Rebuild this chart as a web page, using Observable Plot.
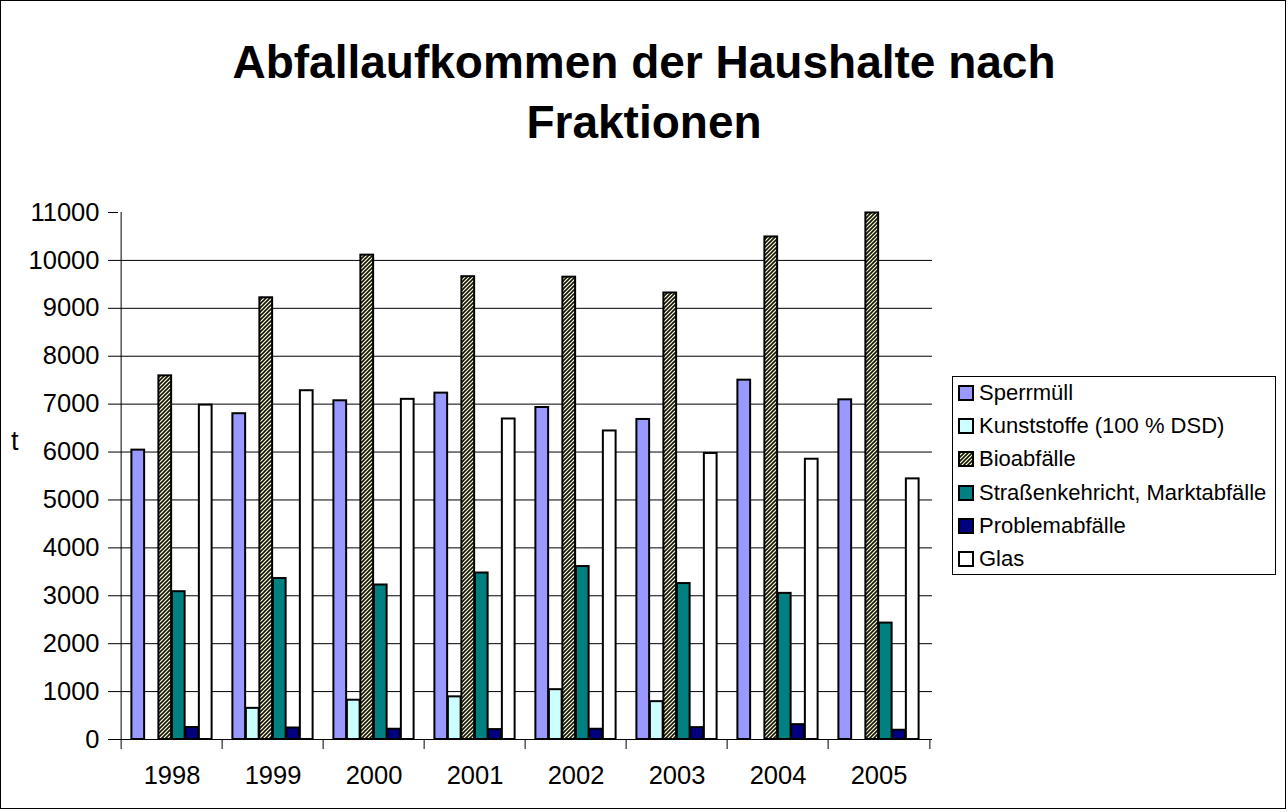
<!DOCTYPE html>
<html>
<head>
<meta charset="utf-8">
<script src="https://cdn.jsdelivr.net/npm/d3@7"></script>
<script src="https://cdn.jsdelivr.net/npm/@observablehq/plot@0.6"></script>
<style>
  html, body { margin: 0; padding: 0; background: white; }
  body { width: 1288px; height: 812px; overflow: hidden; font-family: "Liberation Sans", Arial, sans-serif; color: black; }
  #wrap { position: relative; width: 1288px; height: 812px; }
  #chart { position: absolute; left: 0; top: 0; }
  #frame { position: absolute; left: 0; top: 0; width: 1284px; height: 807px; border: 1px solid black; pointer-events: none; }
  #title { position: absolute; left: 0; top: 32px; width: 1288px; text-align: center; font-weight: bold; font-size: 46px; line-height: 60px; }
  #ylabel { position: absolute; left: 11px; top: 428px; font-size: 27px; line-height: 27px; }
  #legend { position: absolute; left: 952px; top: 376px; width: 322px; height: 197px; border: 1px solid black; background: white; }
  .row { position: absolute; left: 0; height: 33px; display: flex; align-items: center; font-size: 22px; white-space: nowrap; }
  .sw { width: 12px; height: 12px; border: 2px solid black; margin-left: 5px; margin-right: 5px; box-sizing: content-box; }
</style>
</head>
<body>
<svg width="0" height="0" style="position:absolute">
  <defs>
    <pattern id="bioHatch" patternUnits="userSpaceOnUse" width="4" height="4">
      <rect width="4" height="4" fill="#FFFFCC"></rect>
      <path d="M0,4 L4,0 M-1,1 L1,-1 M3,5 L5,3" stroke="#111" stroke-width="1.6"></path>
    </pattern>
  </defs>
</svg>
<div id="wrap">
  <div id="chart"></div>
  <div id="title">Abfallaufkommen der Haushalte nach<br>Fraktionen</div>
  <div id="ylabel">t</div>
  <div id="legend"></div>
  <div id="frame"></div>
</div>
<script>
const years = ["1998", "1999", "2000", "2001", "2002", "2003", "2004", "2005"];
const seriesNames = ["Sperrmüll", "Kunststoffe (100 % DSD)", "Bioabfälle", "Straßenkehricht, Marktabfälle", "Problemabfälle", "Glas"];
const sperrmuell   = [6040, 6800, 7070, 7230, 6930, 6680, 7500, 7090];
const kunststoffe  = [0, 650, 820, 890, 1040, 790, 0, 0];
const bioabfaelle  = [7590, 9220, 10110, 9660, 9650, 9320, 10490, 10990];
const strassen     = [3085, 3360, 3225, 3475, 3610, 3255, 3050, 2430];
const problem      = [250, 240, 214, 207, 214, 248, 310, 193];
const glas         = [6980, 7280, 7100, 6690, 6440, 5970, 5850, 5440];
const yTicks = d3.range(0, 11001, 1000);
const gridValues = d3.range(1000, 10001, 1000);

const seriesValues = [sperrmuell, kunststoffe, bioabfaelle, strassen, problem, glas];
const fills = ["#9999FF", "#CCFFFF", "url(#bioHatch)", "#008080", "#000080", "#FFFFFF"];

const W = 1288, H = 812;
const mL = 118, mR = 356, mT = 212, mB = 73;
const band = (W - mL - mR) / years.length;
const outerPad = 0.77;
const barW = band / (seriesNames.length + 2 * outerPad);
const gapHalf = outerPad * barW;

const barMarks = seriesValues.map((vals, i) => {
  const data = years.map((y, j) => ({year: y, value: vals[j]})).filter(d => d.value > 0);
  return Plot.barY(data, {
    x: "year", y: "value",
    fill: fills[i], stroke: "black", strokeWidth: 2,
    insetLeft: gapHalf + i * barW,
    insetRight: band - gapHalf - (i + 1) * barW
  });
});

const chart = Plot.plot({
  width: W, height: H,
  marginLeft: mL, marginRight: mR, marginTop: mT, marginBottom: mB,
  style: {background: "transparent", fontFamily: "Liberation Sans, Arial, sans-serif", color: "black", overflow: "visible"},
  x: {type: "band", domain: years, padding: 0, label: null},
  y: {domain: [0, 11000], label: null},
  marks: [
    Plot.ruleY(gridValues, {stroke: "black", strokeWidth: 1}),
    ...barMarks,
    Plot.ruleY([0], {stroke: "black", strokeWidth: 1}),
    Plot.ruleX([years[0]], {dx: -band / 2, y1: 0, y2: 11000, stroke: "black", strokeWidth: 1}),
    Plot.ruleX(years, {dx: -band / 2, y1: 0, y2: 0, insetBottom: -10, stroke: "black"}),
    Plot.ruleX([years[years.length - 1]], {dx: band / 2, y1: 0, y2: 0, insetBottom: -10, stroke: "black"}),
    Plot.axisY({ticks: yTicks, tickSize: 10, tickPadding: 9, fontSize: 25.5, tickFormat: d => String(d), label: null, stroke: "black"}),
    Plot.axisX({tickSize: 0, tickPadding: 26, fontSize: 25.5, label: null})
  ]
});
document.getElementById("chart").appendChild(chart);

const legend = document.getElementById("legend");
seriesNames.forEach((name, i) => {
  const row = document.createElement("div");
  row.className = "row";
  row.style.top = (17 + i * 33.2 - 16.5 - 1) + "px";
  const sw = document.createElement("div");
  sw.className = "sw";
  if (i === 2) {
    sw.innerHTML = '<svg width="12" height="12" style="display:block"><rect width="12" height="12" fill="url(#bioHatch)"></rect></svg>';
  } else {
    sw.style.background = fills[i];
  }
  const label = document.createElement("span");
  label.textContent = name;
  row.appendChild(sw);
  row.appendChild(label);
  legend.appendChild(row);
});
</script>
</body>
</html>
